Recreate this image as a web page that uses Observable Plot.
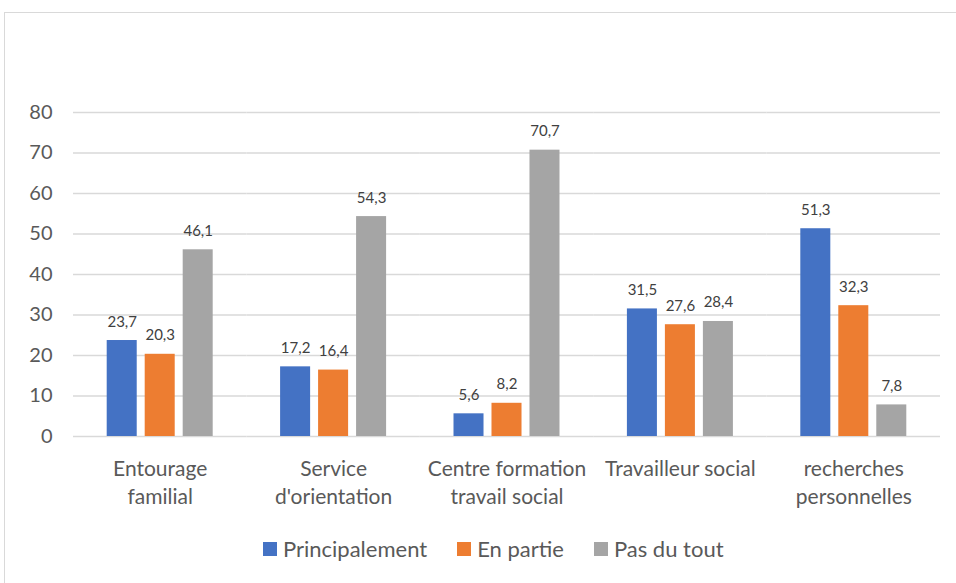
<!DOCTYPE html>
<html>
<head>
<meta charset="utf-8">
<script src="https://cdn.jsdelivr.net/npm/d3@7"></script>
<script src="https://cdn.jsdelivr.net/npm/@observablehq/plot@0.6"></script>
<style>
  html, body { margin: 0; padding: 0; background: #fff; width: 956px; height: 583px; overflow: hidden; }
  #frame { position: absolute; left: 4px; top: 12px; width: 1000px; height: 600px; border: 1.5px solid #d9d9d9; box-sizing: border-box; }
  #chart { position: absolute; left: 0; top: 0; }
  #legend { position: absolute; left: 263px; top: 535px; display: flex; align-items: center; font-family: Lato, sans-serif; font-size: 22px; color: #595959; }
  .item { display: flex; align-items: center; margin-right: 30px; }
  .sw { width: 14px; height: 14px; margin-right: 6px; }
</style>
</head>
<body>
<div id="frame"></div>
<div id="chart"></div>
<div id="legend"></div>
<script>
const categories = ["Entourage familial", "Service d'orientation", "Centre formation travail social", "Travailleur social", "recherches personnelles"];
const tickLabels = ["Entourage\nfamilial", "Service\nd'orientation", "Centre formation\ntravail social", "Travailleur social", "recherches\npersonnelles"];
const series = ["Principalement", "En partie", "Pas du tout"];
const principalement = [23.7, 17.2, 5.6, 31.5, 51.3];
const enPartie = [20.3, 16.4, 8.2, 27.6, 32.3];
const pasDuTout = [46.1, 54.3, 70.7, 28.4, 7.8];
const yTicks = [0, 10, 20, 30, 40, 50, 60, 70, 80];
const colors = ["#4472C4", "#ED7D31", "#A5A5A5"];

const seriesValues = [principalement, enPartie, pasDuTout];
const data = [];
categories.forEach((c, i) => {
  series.forEach((s, j) => data.push({cat: c, series: s, value: seriesValues[j][i]}));
});
const fmt = v => v.toFixed(1).replace(".", ",");

const chart = Plot.plot({
  width: 956,
  height: 520,
  marginLeft: 73,
  marginRight: 16,
  marginTop: 112,
  marginBottom: 84,
  style: {fontFamily: "Lato, sans-serif", color: "#595959", background: "transparent"},
  fx: {domain: categories, padding: 0, round: false, label: null},
  x: {domain: series, paddingInner: 0.21, paddingOuter: 0.887, round: false, axis: null},
  y: {domain: [0, 80], axis: null},
  color: {domain: series, range: colors},
  marks: [
    Plot.ruleY(yTicks, {stroke: "#d9d9d9", strokeWidth: 1.5}),
    Plot.barY(data, {fx: "cat", x: "series", y: "value", fill: "series"}),
    Plot.text(data, {fx: "cat", x: "series", y: "value", text: d => fmt(d.value), dy: -14, lineAnchor: "bottom", fontSize: 15, fill: "#404040"}),
    Plot.axisY({ticks: yTicks, tickSize: 0, tickPadding: 21, fontSize: 20, label: null}),
    Plot.axisFx({anchor: "bottom", tickFormat: d => tickLabels[categories.indexOf(d)], tickSize: 0, tickPadding: 19, fontSize: 21, lineHeight: 1.35, label: null})
  ]
});
document.getElementById("chart").appendChild(chart);

const legend = document.getElementById("legend");
series.forEach((s, j) => {
  const item = document.createElement("div");
  item.className = "item";
  const sw = document.createElement("div");
  sw.className = "sw";
  sw.style.background = colors[j];
  const t = document.createElement("span");
  t.textContent = s;
  item.appendChild(sw);
  item.appendChild(t);
  legend.appendChild(item);
});
</script>
</body>
</html>
